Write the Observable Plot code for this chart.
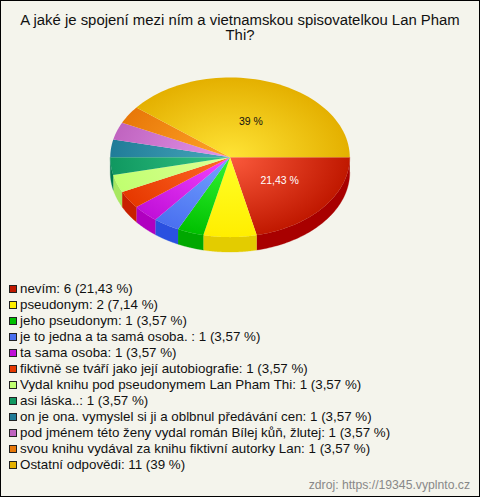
<!DOCTYPE html>
<html><head><meta charset="utf-8">
<script src="https://cdn.jsdelivr.net/npm/d3@7"></script>
<script src="https://cdn.jsdelivr.net/npm/@observablehq/plot@0.6"></script>
<style>
html,body{margin:0;padding:0;background:#f4f4ec}
#frame{position:relative;box-sizing:border-box;width:480px;height:497px;border:1px solid #000;background:#f4f4ec;font-family:"Liberation Sans",Arial,sans-serif;color:#111;overflow:hidden}
#title{position:absolute;left:10px;top:12px;width:458px;text-align:center;font-size:14.9px;line-height:15px}
#chart{position:absolute;left:-1px;top:59px}
#chart svg{display:block;background:transparent}
#legend{position:absolute;left:8px;top:280px;font-size:13.35px;line-height:16px;white-space:nowrap}
#legend .sw{display:inline-block;box-sizing:border-box;width:8px;height:8px;border:1px solid #222;margin-right:3px;vertical-align:0}
#source{position:absolute;right:9px;top:477px;font-size:12.2px;line-height:14px;color:#888}
</style></head><body>
<div id="frame">
<div id="title"></div>
<div id="chart"></div>
<div id="legend"></div>
<div id="source"></div>
</div>
<script>
const titleText = "A jaké je spojení mezi ním a vietnamskou spisovatelkou Lan Pham Thi?";
const sourceText = "zdroj: https://19345.vyplnto.cz";
const categories = ["nevím","pseudonym","jeho pseudonym","je to jedna a ta samá osoba. ","ta sama osoba","fiktivně se tváří jako její autobiografie","Vydal knihu pod pseudonymem Lan Pham Thi","asi láska..","on je ona. vymyslel si ji a oblbnul předávání cen","pod jménem této ženy vydal román Bílej kůň, žlutej","svou knihu vydával za knihu fiktivní autorky Lan","Ostatní odpovědi"];
const counts = [6,2,1,1,1,1,1,1,1,1,1,11];
const percents = ["21,43","7,14","3,57","3,57","3,57","3,57","3,57","3,57","3,57","3,57","3,57","39"];
const centerColors = ["#fb5a3c","#ffff28","#34f534","#74a4ff","#f545ff","#ff6a28","#deff96","#34c486","#48a8bc","#e496ea","#ffa428","#ffe436"];
const edgeColors = ["#c01800","#ffee00","#00c000","#4a70f0","#c010d8","#e63800","#c0ff70","#109860","#207c98","#c064c0","#e87808","#e4b000"];
const sideColors = ["#a80000","#e3cc00","#00a800","#2a50e0","#b000c0","#c82000","#a8e860","#007850","#086880","#a84ca8","#d06000","#cc9800"];
const labelSlices = [0,11];

const depth = 0.1875;
const angles = d3.pie().sort(null).startAngle(0).endAngle(2*Math.PI)(counts);
const rim = (a) => ({x: Math.cos(a), y: Math.sin(a)});
const arcPoints = (a0, a1) => d3.range(0, 61).map(i => rim(a0 + (a1 - a0) * i / 60));

const faces = angles.map(s => [{x:0,y:0}, ...arcPoints(s.startAngle, s.endAngle)]);
const sides = angles.map(s => {
  const a0 = Math.min(s.startAngle, Math.PI), a1 = Math.min(s.endAngle, Math.PI);
  if (a1 <= a0) return null;
  const top = arcPoints(a0, a1);
  return [...top, ...top.slice().reverse().map(p => ({x:p.x, y:p.y + depth}))];
});
const labels = labelSlices.map(i => {
  const m = (angles[i].startAngle + angles[i].endAngle) / 2;
  return {x: 0.53*Math.cos(m), y: 0.47*Math.sin(m), text: percents[i] + " %", i};
});

const defs = (index, {x, y}) => {
  const d = d3.create("svg:defs");
  centerColors.forEach((c, i) => {
    const g = d.append("radialGradient").attr("id", "g"+i).attr("gradientUnits","userSpaceOnUse")
      .attr("cx",0).attr("cy",0).attr("r",1)
      .attr("gradientTransform",`translate(${x(0)},${y(0)}) scale(${x(1)-x(0)},${y(1)-y(0)})`);
    g.append("stop").attr("offset","0%").attr("stop-color",c);
    g.append("stop").attr("offset","100%").attr("stop-color",edgeColors[i]);
  });
  return d.node();
};

const plot = Plot.plot({
  width: 480, height: 200,
  margin: 0,
  x: {domain:[-1,1], range:[110,350], axis:null},
  y: {domain:[-1,1], range:[17,177], axis:null},
  marks: [
    defs,
    ...sides.map((p,i) => p ? Plot.line(p, {x:"x", y:"y", fill:sideColors[i], stroke:sideColors[i], strokeWidth:0.3, curve:"linear"}) : null),
    ...faces.map((p,i) => Plot.line(p, {x:"x", y:"y", fill:`url(#g${i})`, stroke:"none", curve:"linear"})),
    Plot.text(labels, {x:"x", y:"y", text:"text", fontSize:10.5, fontFamily:"Liberation Sans, Arial, sans-serif",
      fill:d => d.i === 0 ? "#fff" : "#111"})
  ]
});
document.getElementById("chart").append(plot);
document.getElementById("title").textContent = titleText;
document.getElementById("source").textContent = sourceText;
const legend = document.getElementById("legend");
categories.forEach((c,i) => {
  const row = document.createElement("div");
  const sw = document.createElement("span");
  sw.className = "sw"; sw.style.background = edgeColors[i];
  row.append(sw, `${c}: ${counts[i]} (${percents[i]} %)`);
  legend.append(row);
});
</script>
</body></html>
